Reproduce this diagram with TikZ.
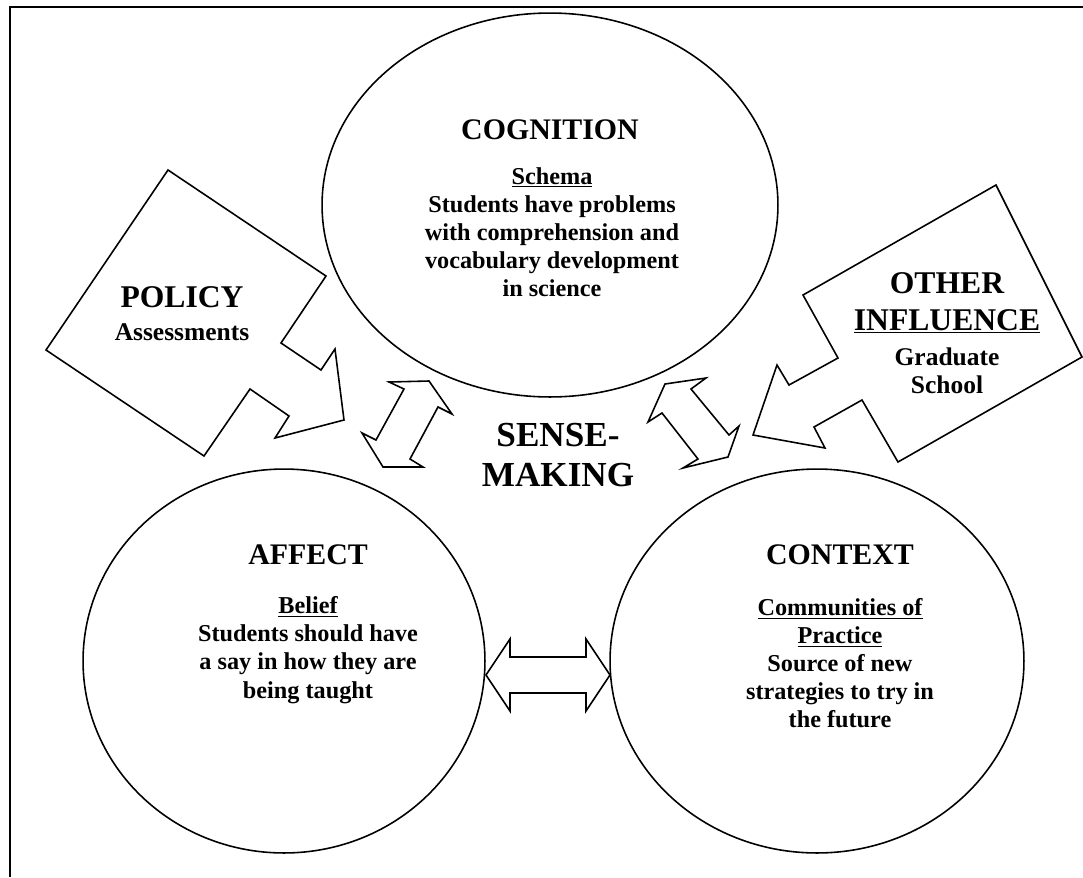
\documentclass[tikz,border=0pt]{standalone}
\usepackage{fontspec}
\setmainfont{Liberation Serif}
\usetikzlibrary{shapes}
\tikzset{
	ring/.style={draw, ellipse, line width=0.9pt, inner sep=0pt},
	blockarrow/.style={draw, line width=0.9pt, line join=miter},
	headtext/.style={font=\bfseries\fontsize{17}{19}\selectfont, align=center},
	bodytext/.style={font=\bfseries\fontsize{13.8}{16}\selectfont, align=center},
	bigtext/.style={font=\bfseries\fontsize{18}{21}\selectfont, align=center},
}

\begin{document}
\begin{tikzpicture}[x=0.02cm, y=-0.02cm]
	\useasboundingbox (0,0) rectangle (1083,877);
	\draw[line width=0.9pt] (1083,7) -- (10,7) -- (10,877);
	\node[ring, minimum width=9.12cm, minimum height=7.68cm] (cog) at (550,205) {};
	\node[ring, minimum width=8.04cm, minimum height=7.68cm] (aff) at (284,661) {};
	\node[ring, minimum width=8.28cm, minimum height=7.68cm] (con) at (817,661) {};
	\draw[blockarrow] (168,170) -- (326,276) -- (281,343) -- (321,370) -- (335,349) -- (344,420)
		-- (275,438) -- (289,416) -- (250,389) -- (204,456) -- (46,350) -- cycle;
	\draw[blockarrow] (996,185) -- (1082,357) -- (898,462) -- (862,400) -- (814,427) -- (825,448)
		-- (753,435) -- (777,365) -- (789,385) -- (838,358) -- (803,295) -- cycle;
	\draw[blockarrow] (389,382) -- (429,381) -- (452,414) -- (438,407) -- (410,459) -- (423,467)
		-- (383,467) -- (362,433) -- (376,440) -- (404,389) -- cycle;
	\draw[blockarrow] (665,384) -- (706,378) -- (691,389) -- (729,435) -- (739,426) -- (728,457)
		-- (683,468) -- (698,459) -- (662,413) -- (648,422) -- cycle;
	\draw[blockarrow] (486,675) -- (510,639) -- (510,657) -- (586,657) -- (586,639) -- (610,675)
		-- (586,711) -- (586,693) -- (510,693) -- (510,711) -- cycle;
	\node[headtext] (coghead) at (550,130) {COGNITION};
	\node[bodytext] (cogbody) at (552,232) {\underline{Schema}\\Students have problems\\with comprehension and\\vocabulary development\\in science};
	\node[headtext] (affhead) at (308,555) {AFFECT};
	\node[bodytext] (affbody) at (308,650) {\underline{Belief}\\Students should have\\a say in how they are\\being taught};
	\node[headtext] (conhead) at (840,555) {CONTEXT};
	\node[bodytext] (conbody) at (840,663) {\underline{Communities of}\\\underline{Practice}\\Source of new\\strategies to try in\\the future};
	\node[font=\bfseries\fontsize{20}{22.8}\selectfont, align=center] (sense) at (558,455) {SENSE-\\MAKING};
	\node[bigtext] (polhead) at (182,297) {POLICY};
	\node[font=\bfseries\fontsize{14.5}{16}\selectfont] (poltext) at (182,332) {Assessments};
	\node[bigtext] (othhead) at (947,303) {OTHER\\\underline{INFLUENCE}};
	\node[font=\bfseries\fontsize{14.5}{16}\selectfont, align=center] (othtext) at (947,371) {Graduate\\School};
\end{tikzpicture}
\end{document}
